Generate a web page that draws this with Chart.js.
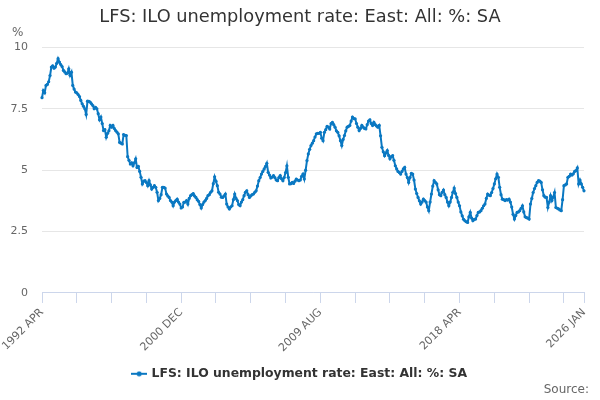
<!DOCTYPE html>
<html>
<head>
<meta charset="utf-8">
<script src="https://cdn.jsdelivr.net/npm/chart.js@4"></script>
<style>
  body { margin: 0; background: #fff; }
  #wrap { position: relative; width: 600px; height: 400px; font-family: "DejaVu Sans", sans-serif; }
  #unit { position: absolute; left: 12px; top: 25px; font-size: 12px; color: #666; }
  #source { position: absolute; right: 11px; top: 382px; font-size: 12px; color: #666; }
</style>
</head>
<body>
<div id="wrap">
  <canvas id="grafico" width="600" height="400"></canvas>
  <div id="unit">%</div>
  <div id="source">Source:</div>
</div>
<script>
// series starts 1992 APR, monthly, ends 2026 JAN
const startYear = 1992;
const startMonth = 3; // APR
const monthNames = ["JAN","FEB","MAR","APR","MAY","JUN","JUL","AUG","SEP","OCT","NOV","DEC"];

// values, 12 per row starting at 1992 APR
const taxa = [
  7.95, 8.24, 8.15, 8.45, 8.49, 8.6, 8.85, 9.2, 9.25, 9.15, 9.2, 9.35,
  9.54, 9.4, 9.3, 9.22, 9.06, 9.0, 8.93, 8.95, 9.13, 8.86, 8.99, 8.45,
  8.3, 8.18, 8.15, 8.08, 8.0, 7.84, 7.7, 7.6, 7.5, 7.27, 7.81, 7.8,
  7.77, 7.7, 7.63, 7.5, 7.56, 7.5, 7.3, 7.05, 7.16, 6.9, 6.61, 6.65,
  6.34, 6.5, 6.6, 6.82, 6.75, 6.82, 6.7, 6.61, 6.55, 6.48, 6.13, 6.1,
  6.07, 6.45, 6.42, 6.41, 5.55, 5.4, 5.25, 5.3, 5.18, 5.3, 5.46, 5.11,
  5.15, 4.95, 4.71, 4.44, 4.55, 4.57, 4.5, 4.37, 4.57, 4.4, 4.23, 4.3,
  4.37, 4.3, 4.1, 3.76, 3.85, 4.0, 4.3, 4.3, 4.27, 4.03, 3.95, 3.89,
  3.76, 3.7, 3.55, 3.7, 3.76, 3.82, 3.7, 3.62, 3.46, 3.5, 3.69, 3.7,
  3.76, 3.62, 3.85, 3.96, 4.0, 4.05, 3.95, 3.89, 3.8, 3.73, 3.6, 3.46,
  3.6, 3.7, 3.76, 3.85, 3.96, 4.0, 4.1, 4.16, 4.45, 4.73, 4.55, 4.37,
  4.1, 4.03, 3.9, 3.89, 3.95, 4.03, 3.62, 3.5, 3.42, 3.5, 3.55, 3.8,
  4.03, 3.85, 3.76, 3.6, 3.55, 3.7, 3.8, 3.96, 4.1, 4.16, 4.0, 3.89,
  3.95, 4.0, 4.03, 4.1, 4.16, 4.35, 4.57, 4.7, 4.84, 4.95, 5.05, 5.15,
  5.28, 4.91, 4.8, 4.68, 4.72, 4.78, 4.7, 4.6, 4.57, 4.7, 4.78, 4.65,
  4.57, 4.7, 4.9, 5.18, 4.71, 4.44, 4.45, 4.5, 4.46, 4.55, 4.64, 4.6,
  4.57, 4.6, 4.75, 4.84, 4.64, 5.0, 5.39, 5.66, 5.85, 6.0, 6.1, 6.2,
  6.35, 6.48, 6.5, 6.5, 6.54, 6.3, 6.2, 6.54, 6.65, 6.78, 6.75, 6.68,
  6.9, 6.95, 6.85, 6.75, 6.6, 6.54, 6.4, 6.2, 6.0, 6.25, 6.41, 6.6,
  6.75, 6.78, 6.82, 7.0, 7.16, 7.1, 7.09, 6.9, 6.75, 6.61, 6.7, 6.82,
  6.75, 6.7, 6.68, 6.85, 7.0, 7.05, 6.9, 6.82, 6.95, 6.85, 6.8, 6.75,
  6.82, 6.4, 5.93, 5.75, 5.59, 5.7, 5.8, 5.6, 5.46, 5.55, 5.59, 5.4,
  5.18, 5.05, 4.95, 4.9, 4.84, 4.95, 5.05, 5.11, 4.84, 4.7, 4.5, 4.7,
  4.87, 4.84, 4.6, 4.23, 4.05, 3.89, 3.75, 3.62, 3.7, 3.82, 3.76, 3.7,
  3.5, 3.35, 3.7, 4.03, 4.35, 4.57, 4.5, 4.44, 4.2, 4.0, 3.96, 4.1,
  4.19, 4.0, 3.89, 3.7, 3.55, 3.7, 3.89, 4.1, 4.27, 4.05, 3.89, 3.7,
  3.55, 3.3, 3.14, 3.0, 2.94, 2.9, 2.87, 3.1, 3.28, 3.05, 2.94, 3.0,
  3.01, 3.15, 3.28, 3.3, 3.35, 3.45, 3.55, 3.62, 3.85, 4.03, 3.98, 3.96,
  4.09, 4.25, 4.44, 4.65, 4.84, 4.71, 4.3, 4.0, 3.82, 3.8, 3.76, 3.8,
  3.78, 3.82, 3.7, 3.5, 3.2, 3.01, 3.15, 3.28, 3.3, 3.35, 3.45, 3.55,
  3.3, 3.1, 3.07, 3.05, 3.01, 3.62, 3.85, 4.09, 4.25, 4.37, 4.5, 4.57,
  4.55, 4.5, 4.2, 3.96, 3.9, 3.89, 3.48, 3.7, 3.96, 3.76, 3.9, 4.09,
  3.48, 3.45, 3.42, 3.38, 3.35, 3.8, 4.37, 4.4, 4.44, 4.71, 4.75, 4.84,
  4.8, 4.85, 4.95, 4.98, 5.09, 4.44, 4.6, 4.44, 4.3, 4.16
];

const meses = taxa.map((v, i) => {
  const m = startMonth + i;
  return (startYear + Math.floor(m / 12)) + " " + monthNames[m % 12];
});

// which months get a tick mark and which get a label
const passoTick = 26;
const passoLabel = 104;
const ultimo = taxa.length - 1;

const cor = '#0a78c2';

// legend symbol: short line with a dot in the middle
const simbolo = document.createElement('canvas');
simbolo.width = 16;
simbolo.height = 6;
const sctx = simbolo.getContext('2d');
sctx.fillStyle = cor;
sctx.fillRect(0, 2, 16, 2);
sctx.beginPath();
sctx.arc(8, 3, 2.5, 0, Math.PI * 2);
sctx.fill();

const ctx = document.getElementById('grafico').getContext('2d');

new Chart(ctx, {
  type: 'line',
  data: {
    labels: meses,
    datasets: [{
      label: 'LFS: ILO unemployment rate: East: All: %: SA',
      data: taxa,
      borderColor: cor,
      backgroundColor: cor,
      borderWidth: 2,
      pointRadius: 1.6,
      pointBorderWidth: 0,
      pointBackgroundColor: cor,
      tension: 0
    }]
  },
  options: {
    responsive: false,
    animation: false,
    layout: { padding: { left: 9, right: 9, top: 0, bottom: 10 } },
    plugins: {
      title: {
        display: true,
        text: 'LFS: ILO unemployment rate: East: All: %: SA',
        color: '#333',
        font: { family: 'DejaVu Sans', size: 17.8, weight: 'normal' },
        padding: { top: 7, bottom: 19 }
      },
      legend: {
        position: 'bottom',
        labels: {
          color: '#333',
          font: { family: 'DejaVu Sans', size: 12.4, weight: 'bold' },
          usePointStyle: true,
          generateLabels: chart =>
            Chart.defaults.plugins.legend.labels.generateLabels(chart)
              .map(l => Object.assign(l, { pointStyle: simbolo })),
          padding: 10
        }
      },
      tooltip: { enabled: false }
    },
    scales: {
      x: {
        grid: { drawOnChartArea: false, color: '#ccd6eb', tickLength: 10 },
        border: { color: '#ccd6eb' },
        ticks: {
          autoSkip: false,
          maxRotation: 45,
          minRotation: 45,
          color: '#666',
          font: { family: 'DejaVu Sans', size: 11 },
          callback: function(val, i) {
            if (i % passoTick !== 0 && i !== ultimo) return null;
            if (i % passoLabel === 0 || i === ultimo) return meses[i];
            return '';
          }
        }
      },
      y: {
        min: 0,
        max: 10,
        afterFit: s => { s.width = 33; },
        grid: { color: '#e6e6e6', drawTicks: false },
        border: { display: false },
        ticks: {
          stepSize: 2.5,
          padding: 14,
          color: '#666',
          font: { family: 'DejaVu Sans', size: 11 }
        }
      },
      // empty axis on the right, only keeps the plot edge where the original has it
      folga: {
        position: 'right',
        afterFit: s => { s.width = 7; },
        grid: { display: false },
        border: { display: false },
        ticks: { display: false }
      }
    }
  }
});
</script>
</body>
</html>
